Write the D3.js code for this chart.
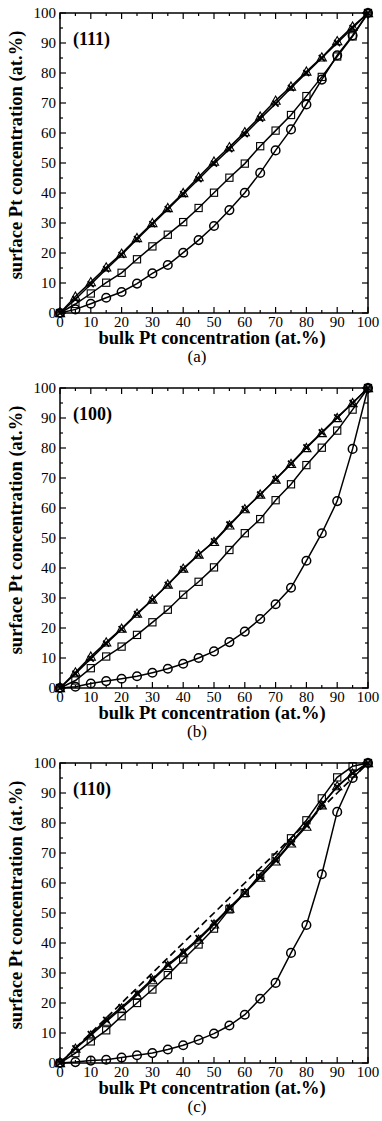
<!DOCTYPE html>
<html>
<head>
<meta charset="utf-8">
<script src="https://cdn.jsdelivr.net/npm/d3@7"></script>
<style>
body { margin: 0; background: #fff; }
svg { display: block; }
text { font-family: "Liberation Serif", "Times New Roman", serif; fill: #000; }
</style>
</head>
<body>
<svg id="chart" width="382" height="1121"></svg>
<script>
// bulk Pt concentration (at.%)
const bulk = [0, 5, 10, 15, 20, 25, 30, 35, 40, 45, 50, 55, 60, 65, 70, 75, 80, 85, 90, 95, 100];
const ticks = [0, 10, 20, 30, 40, 50, 60, 70, 80, 90, 100];
const minorTicks = [5, 15, 25, 35, 45, 55, 65, 75, 85, 95];

// (111)
const circlesA = [0, 1.2, 3.1, 5.1, 7.0, 9.8, 13.2, 16.0, 20.1, 24.3, 29.0, 34.3, 40.1, 46.7, 54.2, 61.2, 69.5, 77.8, 85.9, 92.5, 100];
const squaresA = [0, 3.0, 6.5, 10.1, 13.4, 17.9, 22.2, 26.1, 30.3, 35.0, 40.1, 45.1, 49.8, 55.6, 60.8, 66.0, 72.3, 78.7, 85.5, 92.2, 100];
const trianglesA = [0, 5.5, 10.3, 15.2, 19.8, 25.0, 30.0, 35.0, 40.0, 45.3, 50.5, 55.3, 60.3, 65.5, 70.8, 75.5, 80.5, 85.2, 90.6, 95.5, 100];
const crossesA = [0, 4.6, 9.6, 14.6, 19.4, 24.6, 29.6, 34.6, 39.6, 44.6, 49.8, 54.6, 59.6, 64.8, 69.8, 75.0, 80.0, 85.0, 90.0, 95.0, 100];

// (100)
const circlesB = [0, 0.4, 1.5, 2.3, 3.1, 3.9, 5.1, 6.4, 8.1, 10.0, 12.2, 15.3, 18.8, 23.0, 27.9, 33.4, 42.4, 51.6, 62.3, 79.7, 100];
const squaresB = [0, 2.5, 6.6, 10.5, 13.8, 17.7, 21.9, 26.1, 31.1, 35.4, 40.2, 46.0, 51.6, 56.3, 62.6, 67.9, 74.3, 80.1, 85.8, 92.8, 100];
const trianglesB = [0, 5.2, 10.5, 15.2, 19.8, 24.8, 29.5, 34.5, 39.8, 44.5, 48.7, 54.2, 59.6, 64.5, 69.5, 74.7, 80.0, 85.0, 90.0, 95.0, 100];
const crossesB = [0, 4.8, 9.8, 14.8, 19.6, 24.6, 29.4, 34.4, 39.6, 44.4, 48.9, 54.5, 59.6, 64.5, 69.6, 74.8, 80.2, 85.2, 90.2, 95.0, 100];

// (110)
const circlesC = [0, 0.3, 0.8, 1.1, 1.8, 2.6, 3.3, 4.5, 5.9, 7.7, 9.8, 12.5, 16.1, 21.4, 26.7, 36.7, 46.0, 62.9, 83.7, 95.0, 100];
const squaresC = [0, 3.3, 7.2, 10.9, 15.6, 20.0, 24.5, 29.3, 34.5, 39.5, 44.8, 51.2, 56.6, 62.9, 68.5, 74.9, 80.9, 88.2, 95.2, 98.9, 100];
const trianglesC = [0, 4.8, 9.2, 13.8, 18.2, 22.6, 27.6, 32.4, 36.6, 41.1, 46.2, 51.5, 56.7, 61.8, 67.2, 73.2, 78.8, 85.9, 92.3, 96.5, 100];
const crossesC = [0, 4.9, 9.6, 14.4, 18.6, 23.2, 28.0, 32.8, 37.0, 41.6, 46.6, 51.8, 56.8, 62.0, 67.6, 73.5, 79.3, 86.2, 92.0, 96.6, 100];
const dashedC = [0, 5, 10, 15, 20, 25, 30, 35, 40, 45, 50, 55, 60, 65, 70, 75, 80, 85, 90, 95, 100];

const panels = [
    {label: '(111)', caption: '(a)', top: 13, circles: circlesA, squares: squaresA, triangles: trianglesA, crosses: crossesA},
    {label: '(100)', caption: '(b)', top: 388, circles: circlesB, squares: squaresB, triangles: trianglesB, crosses: crossesB},
    {label: '(110)', caption: '(c)', top: 763, circles: circlesC, squares: squaresC, triangles: trianglesC, crosses: crossesC, dashed: dashedC}
];

var svg = d3.select('#chart');
var left = 60, right = 368, plotH = 300;

var x = d3.scaleLinear().domain([0, 100]).range([left, right]);

panels.forEach((p) => {
    var y = d3.scaleLinear().domain([0, 100]).range([p.top + plotH, p.top]);
    var g = svg.append('g');

    var line = d3.line()
        .x((d, i) => x(bulk[i]))
        .y((d) => y(d));

    // ticks, all four sides, pointing in
    var major = 6, minor = 3;
    ticks.concat(minorTicks).forEach((t) => {
        var len = ticks.includes(t) ? major : minor;
        g.append('line').attr('x1', x(t)).attr('x2', x(t)).attr('y1', y(0)).attr('y2', y(0) - len);
        g.append('line').attr('x1', x(t)).attr('x2', x(t)).attr('y1', y(100)).attr('y2', y(100) + len);
        g.append('line').attr('y1', y(t)).attr('y2', y(t)).attr('x1', x(0)).attr('x2', x(0) + len);
        g.append('line').attr('y1', y(t)).attr('y2', y(t)).attr('x1', x(100)).attr('x2', x(100) - len);
    });
    g.selectAll('line').attr('stroke', '#000').attr('stroke-width', 1.2);

    g.append('rect')
        .attr('x', x(0)).attr('y', y(100))
        .attr('width', x(100) - x(0)).attr('height', y(0) - y(100))
        .attr('fill', 'none').attr('stroke', '#000').attr('stroke-width', 1.5);

    // tick labels
    g.selectAll('.xt').data(ticks).enter().append('text')
        .attr('x', (d) => x(d)).attr('y', y(0) + 14)
        .attr('text-anchor', 'middle').attr('font-size', 15)
        .text((d) => d);
    g.selectAll('.yt').data(ticks).enter().append('text')
        .attr('x', x(0) - 4).attr('y', (d) => y(d) + 5)
        .attr('text-anchor', 'end').attr('font-size', 15)
        .text((d) => d);

    g.append('text')
        .attr('x', 212).attr('y', y(0) + 31)
        .attr('text-anchor', 'middle').attr('font-size', 18.5).attr('font-weight', 'bold')
        .text('bulk Pt concentration (at.%)');
    g.append('text')
        .attr('x', 197).attr('y', y(0) + 49)
        .attr('text-anchor', 'middle').attr('font-size', 17)
        .text(p.caption);
    g.append('text')
        .attr('transform', `translate(22,${p.top + plotH / 2 - 8}) rotate(-90)`)
        .attr('text-anchor', 'middle').attr('font-size', 18.5).attr('font-weight', 'bold')
        .text('surface Pt concentration (at.%)');
    g.append('text')
        .attr('x', 73).attr('y', p.top + 32)
        .attr('font-size', 18).attr('font-weight', 'bold')
        .text(p.label);

    // series
    if (p.dashed) {
        g.append('path').attr('d', line(p.dashed))
            .attr('fill', 'none').attr('stroke', '#000').attr('stroke-width', 1.7)
            .attr('stroke-dasharray', '7,4');
    }
    [p.circles, p.squares, p.crosses, p.triangles].forEach((s) => {
        g.append('path').attr('d', line(s))
            .attr('fill', 'none').attr('stroke', '#000').attr('stroke-width', 1.5);
    });

    var mk = g.append('g').attr('fill', 'none').attr('stroke', '#000').attr('stroke-width', 1.1);
    mk.selectAll('.c').data(p.circles).enter().append('circle')
        .attr('cx', (d, i) => x(bulk[i])).attr('cy', (d) => y(d)).attr('r', 4.3)
        .attr('stroke-width', 1.5);
    mk.selectAll('.s').data(p.squares).enter().append('rect')
        .attr('x', (d, i) => x(bulk[i]) - 3.6).attr('y', (d) => y(d) - 3.6)
        .attr('width', 7.2).attr('height', 7.2);
    mk.selectAll('.x').data(p.crosses).enter().append('path')
        .attr('d', (d, i) => {
            var cx = x(bulk[i]), cy = y(d), r = 3;
            return `M${cx - r},${cy - r}L${cx + r},${cy + r}M${cx - r},${cy + r}L${cx + r},${cy - r}`;
        })
        .attr('stroke-width', 1.8);
    mk.selectAll('.t').data(p.triangles).enter().append('path')
        .attr('d', (d, i) => {
            var cx = x(bulk[i]), cy = y(d);
            return `M${cx},${cy - 4.6}L${cx + 4.6},${cy + 3.6}L${cx - 4.6},${cy + 3.6}Z`;
        });
});
</script>
</body>
</html>
